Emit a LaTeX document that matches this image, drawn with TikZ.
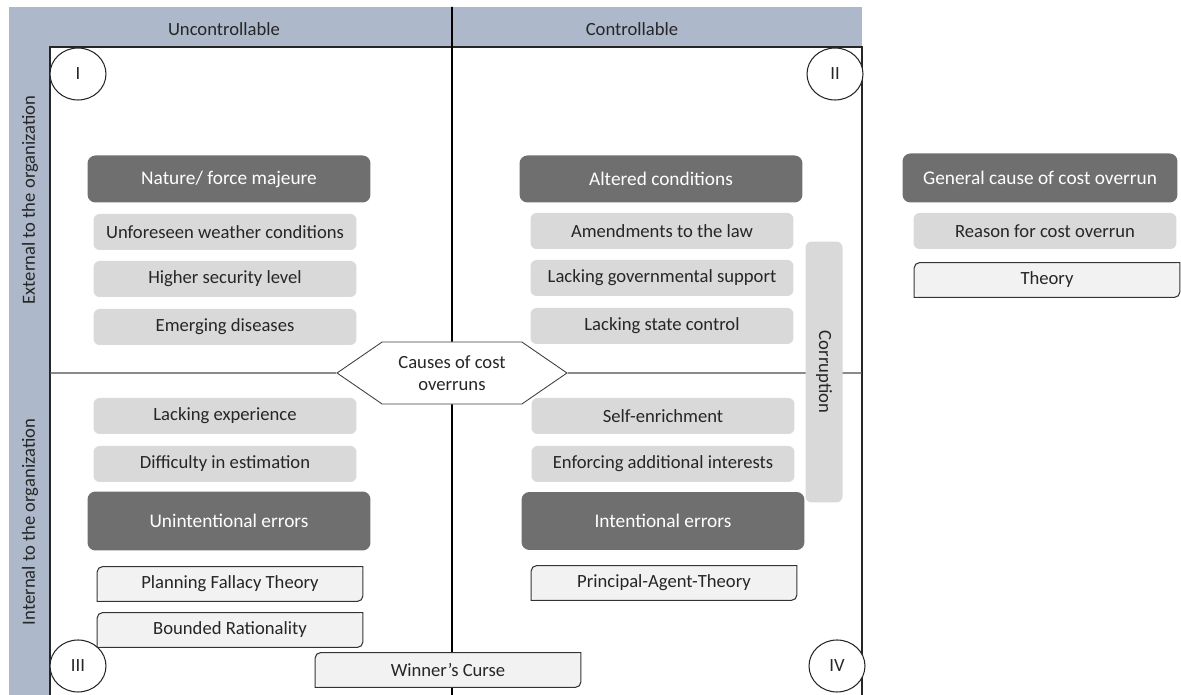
\documentclass[tikz,border=0pt]{standalone}
\usepackage{fontspec}
\setmainfont{Carlito}
\usetikzlibrary{shapes.symbols}

\definecolor{bandblue}{HTML}{ADB9CA}
\definecolor{darkbox}{HTML}{6F6F6F}
\definecolor{lightbox}{HTML}{D9D9D9}
\definecolor{theoryfill}{HTML}{F2F2F2}
\definecolor{txt}{HTML}{262626}

\tikzset{
  cause/.style={fill=darkbox, text=white, rounded corners=4.5pt, minimum width=5.66cm, minimum height=0.94cm, font=\fontsize{11}{13}\selectfont},
  reason/.style={fill=lightbox, rounded corners=3.5pt, minimum width=5.26cm, minimum height=0.72cm},
  theory/.style={fill=theoryfill, rounded corners=3pt, minimum width=5.3cm, minimum height=0.68cm},
  theoryline/.style={draw=black!80, line width=0.6pt, sharp corners},
  quadnum/.style={draw=black!85, fill=white, ellipse, line width=0.6pt, inner sep=0pt, minimum width=1.12cm, minimum height=1.04cm},
  hub/.style={shape=signal, signal to=west and east, signal pointer angle=69, draw=black!75, fill=white, minimum width=4.6cm, minimum height=1.24cm, align=center, inner sep=1pt, line width=0.5pt},
  axis/.style={black, line width=1pt},
  midline/.style={black!70, line width=0.7pt},
  frameline/.style={black!85, line width=0.6pt}
}

% outline of a theory box: round corners only top left and bottom right
\newcommand{\theoryedge}[1]{\draw[theoryline] ([xshift=3pt]#1.north west) -- (#1.north east) -- ([yshift=3pt]#1.south east) arc[start angle=0, end angle=-90, radius=3pt] -- (#1.south west) -- ([yshift=-3pt]#1.north west) arc[start angle=180, end angle=90, radius=3pt] -- cycle;}

\usetikzlibrary{shapes.geometric}

\begin{document}
\begin{tikzpicture}[x=0.02cm, y=-0.02cm, font=\fontsize{10.6}{12.7}\selectfont, text=txt]
        \useasboundingbox (0,0) rectangle (1181,695);

        % the band and the frame of the four fields
        \fill[bandblue] (9,7) rectangle (862,695);
        \fill[white] (50,47) rectangle (862,695);
        \draw[frameline] (50,695) -- (50,47) -- (862,47) -- (862,695);

        % the texts in the band
        \node (uncon) at (224,29) {Uncontrollable};
        \node (con) at (632,29) {Controllable};
        \node[rotate=90] (ext) at (30,200) {External to the organization};
        \node[rotate=90] (int) at (30,522) {Internal to the organization};

        % the centre and the two axes through it
        \node[hub] (hub) at (452,373) {Causes of cost\\overruns};
        \coordinate (top) at (452,7);
        \coordinate (bottom) at (452,695);
        \coordinate (left) at (50,373);
        \coordinate (right) at (862,373);
        \draw[axis] (top) -- (hub);
        \draw[axis] (hub) -- (bottom);
        \draw[midline] (left) -- (hub);
        \draw[midline] (hub) -- (right);

        % the numbers of the fields
        \node[quadnum] (q1) at (78,74) {I};
        \node[quadnum] (q2) at (835,74) {II};
        \node[quadnum] (q3) at (78,666) {III};
        \node[quadnum] (q4) at (837,666) {IV};

        % field I
        \node[cause] (nature) at (229,179) {Nature/ force majeure};
        \node[reason] (weather) at (225,232) {Unforeseen weather conditions};
        \node[reason] (security) at (225,279) {Higher security level};
        \node[reason] (diseases) at (225,327) {Emerging diseases};

        % field II
        \node[cause] (altered) at (661,179) {Altered conditions};
        \node[reason] (law) at (662,231) {Amendments to the law};
        \node[reason] (support) at (662,278) {Lacking governmental support};
        \node[reason] (state) at (662,326) {Lacking state control};
        \node[reason, rotate=-90, minimum width=5.22cm, minimum height=0.74cm] (corrupt) at (824,372) {Corruption};

        % field III
        \node[reason] (experience) at (225,416) {Lacking experience};
        \node[reason] (estimation) at (225,464) {Difficulty in estimation};
        \node[cause, minimum height=1.18cm] (unintent) at (229,521) {Unintentional errors};
        \node[theory] (fallacy) at (230,584) {Planning Fallacy Theory};
        \theoryedge{fallacy}
        \node[theory] (bounded) at (230,630) {Bounded Rationality};
        \theoryedge{bounded}

        % field IV
        \node[reason] (enrich) at (663,416) {Self-enrichment};
        \node[reason] (interests) at (663,464) {Enforcing additional interests};
        \node[cause, minimum height=1.16cm] (intent) at (663,521) {Intentional errors};
        \node[theory] (agent) at (664,583) {Principal-Agent-Theory};
        \theoryedge{agent}

        % across fields III and IV
        \node[theory] (curse) at (448,670) {Winner’s Curse};
        \theoryedge{curse}

        % the legend
        \node[cause, minimum width=5.5cm, minimum height=0.98cm] (keycause) at (1040,178) {General cause of cost overrun};
        \node[reason] (keyreason) at (1045,231) {Reason for cost overrun};
        \node[theory] (keytheory) at (1047,280) {Theory};
        \theoryedge{keytheory}

    \end{tikzpicture}
\end{document}
